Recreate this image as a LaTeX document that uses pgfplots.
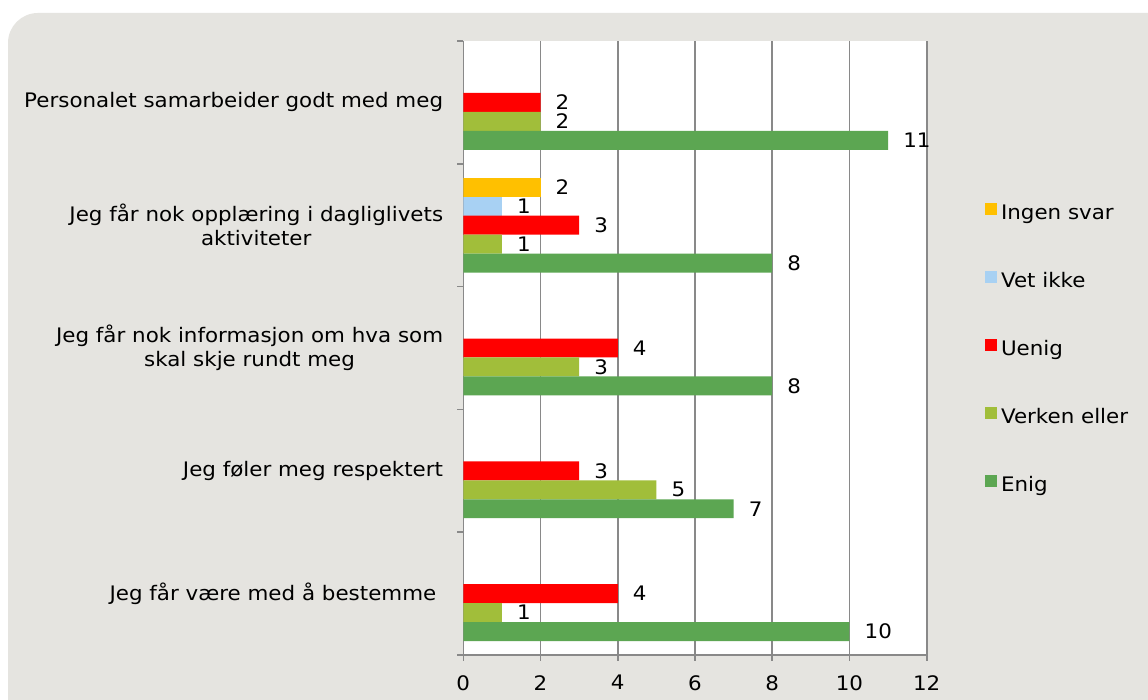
\documentclass[border=0pt]{standalone}
\usepackage{fontspec}
\setmainfont[FakeStretch=1.07]{DejaVu Sans}
\usepackage{pgfplots}
\pgfplotsset{compat=1.18}
\definecolor{enig}{RGB}{92,166,82}
\definecolor{verken}{RGB}{161,190,58}
\definecolor{uenig}{RGB}{255,0,0}
\definecolor{vetikke}{RGB}{168,209,243}
\definecolor{ingen}{RGB}{255,192,0}
\definecolor{panel}{RGB}{229,228,224}
\definecolor{gridc}{RGB}{137,137,137}
\begin{document}
\fontsize{20pt}{24pt}\selectfont
\begin{tikzpicture}[x=1pt,y=1pt]
\useasboundingbox (0,0) rectangle (1148,700);
\fill[white] (0,0) rectangle (1148,700);
\fill[panel, rounded corners=30pt] (8,-60) rectangle (1200,687);
\begin{axis}[
  at={(463.3pt,45pt)}, anchor=south west,
  scale only axis, width=463.4pt, height=614pt,
  xbar, bar width=0.1545,
  xmin=0, xmax=12, ymin=-0.5, ymax=4.5,
  axis background/.style={fill=white},
  xtick={0,2,...,12},
  xmajorgrids, grid style={gridc, line width=1.6pt},
  ytick={0,...,4},
  yticklabels={{Jeg får være med å bestemme },{Jeg føler meg respektert},{Jeg får nok informasjon om hva som \\skal skje rundt meg},{Jeg får nok opplæring i dagliglivets\\aktiviteter},{Personalet samarbeider godt med meg}},
  minor ytick={-0.5,0.5,...,4.5},
  major y tick style={draw=none},
  axis x line*=bottom, axis y line*=left,
  axis line style={gridc, line width=1.6pt},
  tick style={gridc, line width=1.6pt},
  tick align=outside, major tick length=6pt, minor tick length=6pt,
  y tick label style={align=center, inner sep=0pt, xshift=-14pt},
  x tick label style={inner sep=0pt, yshift=-14pt},
  /pgf/number format/assume math mode=true,
  nodes near coords,
  every node near coord/.append style={anchor=west, inner sep=0pt, xshift=15pt, black},
  legend style={at={(1.119,0.4985)}, anchor=west, draw=none, fill=none, row sep=47.5pt,
    nodes={inner sep=0pt, text height=14pt, text depth=4pt}},
  legend cell align=left,
  legend image code/.code={\fill[#1] (0pt,-0.5pt) rectangle (12pt,11.5pt);},
  every axis plot/.append style={draw=none},
]
\addplot[fill=ingen, bar shift=0.309] coordinates {(2,3)};
\addlegendentry{\hspace{4pt}Ingen svar}
\addplot[fill=vetikke, bar shift=0.1545] coordinates {(1,3)};
\addlegendentry{\hspace{4pt}Vet ikke}
\addplot[fill=uenig, bar shift=0] coordinates {(4,0) (3,1) (4,2) (3,3) (2,4)};
\addlegendentry{\hspace{4pt}Uenig}
\addplot[fill=verken, bar shift=-0.1545] coordinates {(1,0) (5,1) (3,2) (1,3) (2,4)};
\addlegendentry{\hspace{4pt}Verken eller}
\addplot[fill=enig, bar shift=-0.309] coordinates {(10,0) (7,1) (8,2) (8,3) (11,4)};
\addlegendentry{\hspace{4pt}Enig}
\end{axis}
\end{tikzpicture}
\end{document}
